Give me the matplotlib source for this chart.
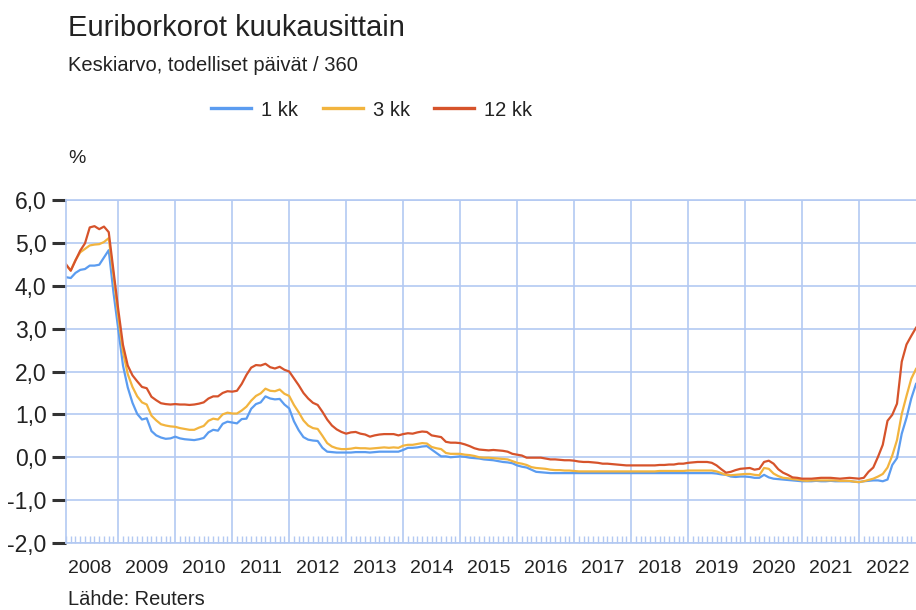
import numpy as np
import matplotlib
matplotlib.use("Agg")
import matplotlib.pyplot as plt
from matplotlib import font_manager
from matplotlib.ticker import FuncFormatter

# monthly averages, Jan 2008 .. Dec 2022
euribor_1kk = [
    4.20, 4.18, 4.30, 4.37, 4.39, 4.47, 4.47, 4.49, 4.66, 4.83, 3.84, 2.99,    # 2008
    2.14, 1.63, 1.27, 1.01, 0.88, 0.91, 0.61, 0.51, 0.46, 0.43, 0.44, 0.48,    # 2009
    0.44, 0.42, 0.41, 0.40, 0.42, 0.45, 0.58, 0.64, 0.62, 0.78, 0.83, 0.81,    # 2010
    0.79, 0.89, 0.90, 1.13, 1.24, 1.28, 1.42, 1.37, 1.35, 1.36, 1.23, 1.14,    # 2011
    0.84, 0.63, 0.47, 0.41, 0.39, 0.38, 0.22, 0.13, 0.12, 0.11, 0.11, 0.11,    # 2012
    0.11, 0.12, 0.12, 0.12, 0.11, 0.12, 0.13, 0.13, 0.13, 0.13, 0.13, 0.17,    # 2013
    0.22, 0.22, 0.23, 0.25, 0.26, 0.18, 0.10, 0.02, 0.02, 0.00, 0.01, 0.02,    # 2014
    0.01, -0.01, -0.02, -0.03, -0.05, -0.06, -0.07, -0.09, -0.11, -0.12, -0.14, -0.19,  # 2015
    -0.22, -0.24, -0.29, -0.34, -0.35, -0.36, -0.37, -0.37, -0.37, -0.37, -0.37, -0.37,  # 2016
    -0.37, -0.37, -0.37, -0.37, -0.37, -0.37, -0.37, -0.37, -0.37, -0.37, -0.37, -0.37,  # 2017
    -0.37, -0.37, -0.37, -0.37, -0.37, -0.37, -0.37, -0.37, -0.37, -0.37, -0.37, -0.37,  # 2018
    -0.37, -0.37, -0.37, -0.37, -0.37, -0.38, -0.40, -0.41, -0.45, -0.46, -0.45, -0.45,  # 2019
    -0.46, -0.48, -0.48, -0.41, -0.47, -0.50, -0.51, -0.52, -0.53, -0.54, -0.55, -0.56,  # 2020
    -0.56, -0.56, -0.55, -0.56, -0.56, -0.55, -0.56, -0.56, -0.56, -0.56, -0.57, -0.58,  # 2021
    -0.56, -0.55, -0.54, -0.54, -0.56, -0.52, -0.18, -0.02, 0.55, 0.92, 1.37, 1.71,     # 2022
]
euribor_3kk = [
    4.48, 4.36, 4.60, 4.78, 4.86, 4.94, 4.96, 4.97, 5.02, 5.11, 4.24, 3.29,
    2.46, 1.94, 1.64, 1.42, 1.28, 1.23, 0.97, 0.86, 0.77, 0.74, 0.72, 0.71,
    0.68, 0.66, 0.64, 0.64, 0.69, 0.73, 0.85, 0.90, 0.88, 1.00, 1.04, 1.02,
    1.02, 1.09, 1.18, 1.32, 1.43, 1.49, 1.60, 1.55, 1.54, 1.58, 1.48, 1.43,
    1.22, 1.05, 0.86, 0.74, 0.68, 0.66, 0.50, 0.33, 0.25, 0.21, 0.19, 0.19,
    0.20, 0.22, 0.21, 0.21, 0.20, 0.21, 0.22, 0.23, 0.22, 0.23, 0.22, 0.27,
    0.29, 0.29, 0.31, 0.33, 0.32, 0.24, 0.21, 0.19, 0.10, 0.08, 0.08, 0.08,
    0.06, 0.05, 0.03, 0.00, -0.01, -0.01, -0.02, -0.03, -0.04, -0.05, -0.09, -0.13,
    -0.15, -0.18, -0.23, -0.25, -0.26, -0.27, -0.29, -0.30, -0.30, -0.31, -0.31, -0.32,
    -0.33, -0.33, -0.33, -0.33, -0.33, -0.33, -0.33, -0.33, -0.33, -0.33, -0.33, -0.33,
    -0.33, -0.33, -0.33, -0.33, -0.33, -0.32, -0.32, -0.32, -0.32, -0.32, -0.32, -0.31,
    -0.31, -0.31, -0.31, -0.31, -0.31, -0.33, -0.37, -0.41, -0.42, -0.41, -0.40, -0.39,
    -0.39, -0.41, -0.42, -0.25, -0.27, -0.38, -0.44, -0.48, -0.49, -0.51, -0.52, -0.54,
    -0.55, -0.54, -0.54, -0.54, -0.54, -0.54, -0.54, -0.55, -0.55, -0.55, -0.57, -0.58,
    -0.56, -0.53, -0.50, -0.45, -0.39, -0.24, 0.04, 0.40, 1.01, 1.43, 1.83, 2.06,
]
euribor_12kk = [
    4.50, 4.35, 4.59, 4.82, 4.99, 5.36, 5.39, 5.32, 5.38, 5.25, 4.35, 3.45,
    2.62, 2.14, 1.91, 1.77, 1.64, 1.61, 1.41, 1.33, 1.26, 1.24, 1.23, 1.24,
    1.23, 1.23, 1.22, 1.23, 1.25, 1.28, 1.37, 1.42, 1.42, 1.50, 1.54, 1.53,
    1.55, 1.71, 1.92, 2.09, 2.15, 2.14, 2.18, 2.10, 2.07, 2.11, 2.04, 2.00,
    1.84, 1.68, 1.50, 1.37, 1.27, 1.22, 1.06, 0.88, 0.74, 0.65, 0.59, 0.55,
    0.58, 0.59, 0.55, 0.53, 0.48, 0.51, 0.53, 0.54, 0.54, 0.54, 0.51, 0.54,
    0.56, 0.55, 0.58, 0.60, 0.59, 0.51, 0.49, 0.47, 0.36, 0.34, 0.34, 0.33,
    0.30, 0.26, 0.21, 0.18, 0.17, 0.16, 0.17, 0.16, 0.15, 0.13, 0.08, 0.06,
    0.04, -0.01, -0.01, -0.01, -0.01, -0.03, -0.05, -0.05, -0.06, -0.07, -0.07, -0.08,
    -0.10, -0.11, -0.11, -0.12, -0.13, -0.15, -0.15, -0.16, -0.17, -0.18, -0.19, -0.19,
    -0.19, -0.19, -0.19, -0.19, -0.19, -0.18, -0.18, -0.17, -0.17, -0.15, -0.15, -0.13,
    -0.12, -0.11, -0.11, -0.11, -0.13, -0.19, -0.28, -0.36, -0.34, -0.30, -0.27, -0.26,
    -0.25, -0.29, -0.27, -0.11, -0.08, -0.15, -0.28, -0.36, -0.41, -0.47, -0.48, -0.50,
    -0.50, -0.50, -0.49, -0.48, -0.48, -0.48, -0.49, -0.50, -0.49, -0.48, -0.49, -0.50,
    -0.48, -0.34, -0.24, 0.01, 0.29, 0.85, 0.99, 1.25, 2.23, 2.63, 2.83, 3.02,
]
series_names = ["1 kk", "3 kk", "12 kk"]
series_colors = ["#5b9cf0", "#f2b43e", "#d6532b"]
years = list(range(2008, 2023))
y_ticks = [-2, -1, 0, 1, 2, 3, 4, 5, 6]

GRID = "#b3c9f2"
TXT = "#222222"

fonts = {f.name for f in font_manager.fontManager.ttflist}
base = "Liberation Sans" if "Liberation Sans" in fonts else "DejaVu Sans"
narrow = "Liberation Sans Narrow" if "Liberation Sans Narrow" in fonts else None
plt.rcParams["font.family"] = [base, "DejaVu Sans"]

# month-end positions as fractional years
x = 2008 + (np.arange(len(euribor_1kk)) + 1) / 12

fig = plt.figure(figsize=(9.16, 6.10), dpi=100)
W, H = 916, 610
ax = fig.add_axes([66 / W, 1 - 543 / H, 850 / W, 343 / H])

lines = []
for vals, name, col in zip([euribor_1kk, euribor_3kk, euribor_12kk], series_names, series_colors):
    ln, = ax.plot(x, vals, color=col, lw=1.6, label=name, solid_joinstyle="round")
    lines.append(ln)

ax.set_xlim(x[0], x[-1])
ax.set_ylim(-2, 6)
ax.set_yticks(y_ticks)
ax.yaxis.set_major_formatter(FuncFormatter(lambda v, p: f"{v:.1f}".replace(".", ",")))
ax.tick_params(axis="y", length=10, width=2.2, color="#333333", pad=4,
               labelsize=16.5, labelcolor=TXT)

# year boundaries as grid, months as small ticks
ax.set_xticks(years[1:])
ax.tick_params(axis="x", which="major", length=0, labelbottom=False)
month_pos = [m for m in np.arange(2008 + 1 / 12, 2023, 1 / 12) if abs(m - round(m)) > 1e-6]
ax.set_xticks(month_pos, minor=True)
ax.tick_params(axis="x", which="minor", direction="in", length=5, width=1, color=GRID)
ax.grid(which="major", color=GRID, lw=1.2)
ax.set_axisbelow(True)
for s in ["top", "left", "bottom"]:
    ax.spines[s].set_color(GRID)
    ax.spines[s].set_linewidth(1.2)
ax.spines["right"].set_visible(False)

sec = ax.secondary_xaxis("bottom")
sec.set_xticks([y + 0.5 for y in years], labels=[str(y) for y in years])
sec.tick_params(length=0, pad=12, labelcolor=TXT,
                labelsize=17 if narrow else 14)
if narrow:
    for t in sec.get_xticklabels():
        t.set_family([narrow, base])
sec.spines["bottom"].set_visible(False)

leg = fig.legend(handles=lines, ncol=3, loc="center left",
                 bbox_to_anchor=(211 / W, 1 - 110 / H), frameon=False,
                 fontsize=14.5, handlelength=2.0, handletextpad=0.5,
                 columnspacing=1.2, borderpad=0, borderaxespad=0)
for t in leg.get_texts():
    t.set_color(TXT)
for l in leg.get_lines():
    l.set_linewidth(2.4)

fig.text(68 / W, 1 - 36 / H, "Euriborkorot kuukausittain", fontsize=21, color=TXT, va="baseline")
fig.text(68 / W, 1 - 71 / H, "Keskiarvo, todelliset päivät / 360", fontsize=14.5, color=TXT, va="baseline")
fig.text(68 / W, 1 - 163 / H, "%", fontsize=14, color=TXT, va="baseline")
src = fig.text(68 / W, 1 - 605 / H, "Lähde: Reuters", fontsize=17 if narrow else 14.4,
               color=TXT, va="baseline")
if narrow:
    src.set_family([narrow, base])

fig.savefig("out.png", dpi=100)
